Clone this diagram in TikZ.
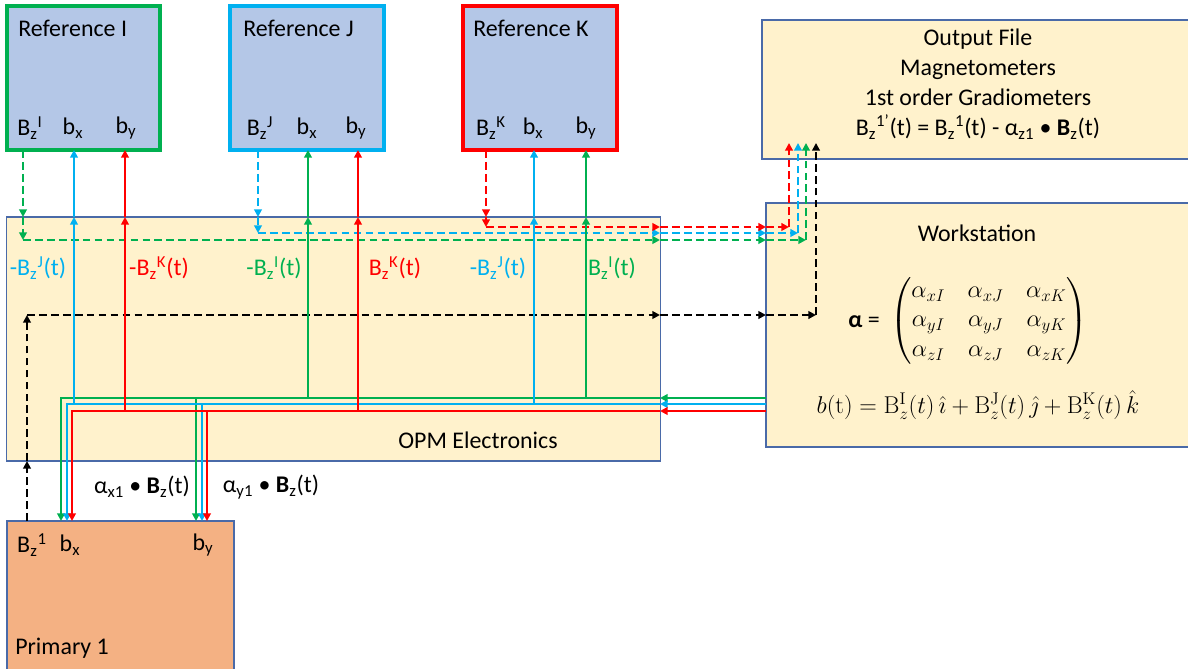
\documentclass[tikz,border=0pt]{standalone}
\usepackage[no-math]{fontspec}
\usepackage{amsmath}
\setmainfont{Carlito}
\usetikzlibrary{arrows.meta}
\definecolor{cg}{HTML}{00B050}
\definecolor{cc}{HTML}{00B0F0}
\definecolor{cr}{HTML}{FF0000}
\definecolor{refblue}{HTML}{B4C7E7}
\definecolor{pale}{HTML}{FFF2CC}
\definecolor{peach}{HTML}{F4B183}
\definecolor{edge}{HTML}{4A6AA8}
\newcommand{\Bsz}[1]{B\textsubscript{z}\textsuperscript{#1}}
\begin{document}
\begin{tikzpicture}[x=0.025cm,y=-0.025cm,
  box/.style={draw=edge,line width=0.8pt,inner sep=0pt},
  refbox/.style={fill=refblue,line width=2.3pt,inner sep=0pt},
  txt/.style={inner sep=0pt,font=\fontsize{17}{20}\selectfont},
  wire/.style={line width=1.7pt},
  dwire/.style={line width=1.7pt,dash pattern=on 5.5pt off 3pt},
  tip/.style={-{Triangle[length=5.5pt,width=5.5pt]}}
]
\useasboundingbox (0,0) rectangle (1188,669);
% boxes
\node[box,fill=pale,minimum width=16.325cm,minimum height=6.1cm] (opm) at (333.5,339) {};
\node[box,fill=pale,minimum width=10.8cm,minimum height=3.475cm] (out) at (978,89.5) {};
\node[box,fill=pale,minimum width=10.7cm,minimum height=6.1cm] (work) at (980,325) {};
\node[box,fill=peach,minimum width=5.675cm,minimum height=3.975cm] (prim) at (120.5,600.5) {};
\node[refbox,draw=cg,minimum width=3.825cm,minimum height=3.6cm] (refI) at (83.5,78) {};
\node[refbox,draw=cc,minimum width=3.85cm,minimum height=3.6cm] (refJ) at (307,78) {};
\node[refbox,draw=cr,minimum width=3.85cm,minimum height=3.6cm] (refK) at (540,78) {};

% box texts
\node[txt,anchor=west] (tI) at (18,28) {Reference I};
\node[txt,anchor=west] (tJ) at (243,28) {Reference J};
\node[txt,anchor=west] (tK) at (473,28) {Reference K};
\node[txt] (lI1) at (30,128) {\Bsz{I}};
\node[txt] (lI2) at (73,128) {b\textsubscript{x}};
\node[txt] (lI3) at (126,128) {b\textsubscript{y}};
\node[txt] (lJ1) at (260,128) {\Bsz{J}};
\node[txt] (lJ2) at (307,128) {b\textsubscript{x}};
\node[txt] (lJ3) at (356,128) {b\textsubscript{y}};
\node[txt] (lK1) at (491,128) {\Bsz{K}};
\node[txt] (lK2) at (533,128) {b\textsubscript{x}};
\node[txt] (lK3) at (586,128) {b\textsubscript{y}};
\node[txt,align=center,font=\fontsize{17}{21.3}\selectfont] (tout) at (978,84) {Output File\\Magnetometers\\1st order Gradiometers\\\Bsz{1’}(t) = \Bsz{1}(t) - α\textsubscript{z1} • \textbf{B}\textsubscript{z}(t)};
\node[txt] (twork) at (977,233) {Workstation};
\node[txt,anchor=east] (talpha) at (880,322) {\textbf{α} =};
\node[txt] (tmat) at (989,321) {\fontsize{17.5}{21}\selectfont$\setlength{\arraycolsep}{8pt}\begin{pmatrix}\alpha_{xI} & \alpha_{xJ} & \alpha_{xK}\\ \alpha_{yI} & \alpha_{yJ} & \alpha_{yK}\\ \alpha_{zI} & \alpha_{zJ} & \alpha_{zK}\end{pmatrix}$};
\node[txt,font=\fontsize{18}{21}\selectfont] (tb) at (978,405) {$b(\mathrm{t}) = \mathrm{B}_z^{\mathrm{I}}(t)\,\hat{\imath} + \mathrm{B}_z^{\mathrm{J}}(t)\,\hat{\jmath} + \mathrm{B}_z^{\mathrm{K}}(t)\,\hat{k}$};
\node[txt] (topm) at (478,440) {OPM Electronics};
\node[txt,text=cc] (o1) at (38,268) {-\Bsz{J}(t)};
\node[txt,text=cr] (o2) at (159,268) {-\Bsz{K}(t)};
\node[txt,text=cg] (o3) at (274,268) {-\Bsz{I}(t)};
\node[txt,text=cr] (o4) at (395,268) {\Bsz{K}(t)};
\node[txt,text=cc] (o5) at (498,268) {-\Bsz{J}(t)};
\node[txt,text=cg] (o6) at (612,268) {\Bsz{I}(t)};
\node[txt] (ax) at (142,487) {α\textsubscript{x1} • \textbf{B}\textsubscript{z}(t)};
\node[txt] (ay) at (271,487) {α\textsubscript{y1} • \textbf{B}\textsubscript{z}(t)};
\node[txt] (p1) at (32,545) {\Bsz{1}};
\node[txt] (p2) at (70,545) {b\textsubscript{x}};
\node[txt] (p3) at (203,545) {b\textsubscript{y}};
\node[txt,anchor=west] (tprim) at (15,648) {Primary 1};

% ---------- dashed Bz lines ----------
% green (Bz^I)
\coordinate (ga) at (23,150); \coordinate (gb) at (23,217); \coordinate (gc) at (23,240);
\coordinate (gd) at (660,240); \coordinate (ge) at (766,240); \coordinate (gf) at (806,240); \coordinate (gg) at (806,143);
\draw[dwire,cg,tip] (ga) -- (gb); \draw[dwire,cg,tip] (gb) -- (gc);
\draw[dwire,cg,tip] (gc) -- (gd); \draw[dwire,cg,tip] (gd) -- (ge);
\draw[dwire,cg,tip] (ge) -- (gf); \draw[dwire,cg,tip] (gf) -- (gg);
% cyan (Bz^J)
\coordinate (ca) at (258,150); \coordinate (cb) at (258,217); \coordinate (cc0) at (258,233);
\coordinate (cd) at (660,233); \coordinate (ce) at (766,233); \coordinate (cf) at (798,233); \coordinate (cgg) at (798,143);
\draw[dwire,cc,tip] (ca) -- (cb); \draw[dwire,cc,tip] (cb) -- (cc0);
\draw[dwire,cc,tip] (cc0) -- (cd); \draw[dwire,cc,tip] (cd) -- (ce);
\draw[dwire,cc,tip] (ce) -- (cf); \draw[dwire,cc,tip] (cf) -- (cgg);
% red (Bz^K)
\coordinate (ra) at (486,150); \coordinate (rb) at (486,217); \coordinate (rc) at (486,227);
\coordinate (rd) at (660,227); \coordinate (re) at (766,227); \coordinate (rf) at (789,227); \coordinate (rg) at (789,143);
\draw[dwire,cr,tip] (ra) -- (rb); \draw[dwire,cr,tip] (rb) -- (rc);
\draw[dwire,cr,tip] (rc) -- (rd); \draw[dwire,cr,tip] (rd) -- (re);
\draw[dwire,cr,tip] (re) -- (rf); \draw[dwire,cr,tip] (rf) -- (rg);
% black (Bz^1)
\coordinate (ka) at (27,521); \coordinate (kb) at (27,461); \coordinate (kc) at (27,315);
\coordinate (kd) at (660,315); \coordinate (ke) at (766,315); \coordinate (kf) at (816,315); \coordinate (kg) at (816,143);
\draw[dwire,black,tip] (ka) -- (kb); \draw[dwire,black,tip] (kb) -- (kc);
\draw[dwire,black,tip] (kc) -- (kd); \draw[dwire,black,tip] (kd) -- (ke);
\draw[dwire,black,tip] (ke) -- (kf); \draw[dwire,black,tip] (kf) -- (kg);

% ---------- solid buses ----------
% green bus y=398
\coordinate (GB0) at (766,398); \coordinate (GB1) at (660,398); \coordinate (GB2) at (61,398); \coordinate (GB3) at (61,521);
\coordinate (GB4) at (196,398); \coordinate (GB5) at (196,521);
\draw[wire,cg,tip] (GB0) -- (GB1);
\draw[wire,cg,tip] (GB1) -- (GB2) -- (GB3);
\draw[wire,cg,tip] (GB4) -- (GB5);
\coordinate (GU1a) at (308,398); \coordinate (GU1b) at (308,217); \coordinate (GU1c) at (308,150);
\coordinate (GU2a) at (586,398); \coordinate (GU2b) at (586,217); \coordinate (GU2c) at (586,150);
\draw[wire,cg,tip] (GU1a) -- (GU1b); \draw[wire,cg,tip] (GU1b) -- (GU1c);
\draw[wire,cg,tip] (GU2a) -- (GU2b); \draw[wire,cg,tip] (GU2b) -- (GU2c);
% cyan bus y=404
\coordinate (CB0) at (766,404); \coordinate (CB1) at (660,404); \coordinate (CB2) at (67,404); \coordinate (CB3) at (67,521);
\coordinate (CB4) at (202,404); \coordinate (CB5) at (202,521);
\draw[wire,cc,tip] (CB0) -- (CB1);
\draw[wire,cc,tip] (CB1) -- (CB2) -- (CB3);
\draw[wire,cc,tip] (CB4) -- (CB5);
\coordinate (CU1a) at (74,404); \coordinate (CU1b) at (74,217); \coordinate (CU1c) at (74,150);
\coordinate (CU2a) at (534,404); \coordinate (CU2b) at (534,217); \coordinate (CU2c) at (534,150);
\draw[wire,cc,tip] (CU1a) -- (CU1b); \draw[wire,cc,tip] (CU1b) -- (CU1c);
\draw[wire,cc,tip] (CU2a) -- (CU2b); \draw[wire,cc,tip] (CU2b) -- (CU2c);
% red bus y=411
\coordinate (RB0) at (766,411); \coordinate (RB1) at (660,411); \coordinate (RB2) at (72,411); \coordinate (RB3) at (72,521);
\coordinate (RB4) at (207,411); \coordinate (RB5) at (207,521);
\draw[wire,cr,tip] (RB0) -- (RB1);
\draw[wire,cr,tip] (RB1) -- (RB2) -- (RB3);
\draw[wire,cr,tip] (RB4) -- (RB5);
\coordinate (RU1a) at (125,411); \coordinate (RU1b) at (125,217); \coordinate (RU1c) at (125,150);
\coordinate (RU2a) at (358,411); \coordinate (RU2b) at (358,217); \coordinate (RU2c) at (358,150);
\draw[wire,cr,tip] (RU1a) -- (RU1b); \draw[wire,cr,tip] (RU1b) -- (RU1c);
\draw[wire,cr,tip] (RU2a) -- (RU2b); \draw[wire,cr,tip] (RU2b) -- (RU2c);
\end{tikzpicture}
\end{document}
